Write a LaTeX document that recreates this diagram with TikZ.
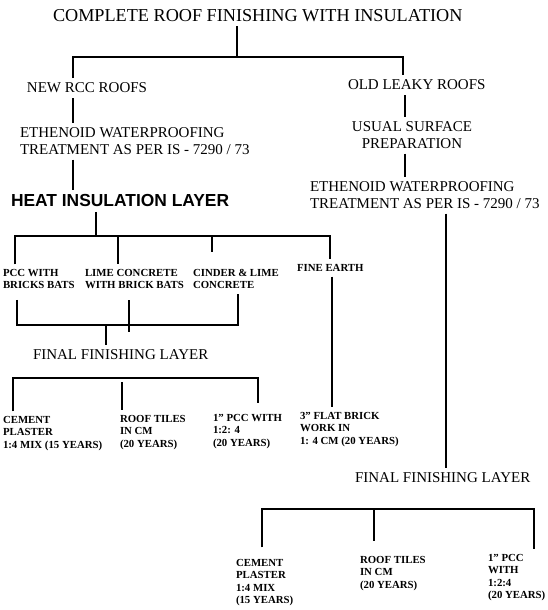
\documentclass[tikz,border=0pt]{standalone}
\usepackage{fontspec}
\setmainfont{Liberation Serif}
\setsansfont{Liberation Sans}
\begin{document}
\begin{tikzpicture}[x=1pt, y=-1pt, line width=1.2pt,
  txt/.style={inner sep=0pt, outer xsep=0pt, outer ysep=5pt, anchor=north west, align=left},
  big/.style={txt, font=\fontsize{18.2}{20}\selectfont\rmfamily},
  mid/.style={txt, font=\fontsize{15}{16.5}\selectfont\rmfamily},
  sm/.style={txt, font=\fontsize{10.8}{12.3}\selectfont\rmfamily\bfseries},
  hd/.style={txt, font=\fontsize{17.4}{18}\selectfont\sffamily\bfseries},
]
  \useasboundingbox (0,0) rectangle (548,610);

  \node[big] (top) at (53,4) {COMPLETE ROOF FINISHING WITH INSULATION};

  \node[mid] (rcc) at (27,78) {NEW RCC ROOFS};
  \node[mid] (eth) at (20,123) {ETHENOID WATERPROOFING\\TREATMENT AS PER IS - 7290 / 73};
  \node[hd] (heat) at (11,189.5) {HEAT INSULATION LAYER};

  \node[mid] (old) at (348,75) {OLD LEAKY ROOFS};
  \node[mid, anchor=north, align=center] (usual) at (412,117) {USUAL SURFACE\\PREPARATION};
  \node[mid] (eth2) at (310,177) {ETHENOID WATERPROOFING\\TREATMENT AS PER IS - 7290 / 73};

  \node[sm] (pcc) at (3,264.4) {PCC WITH\\BRICKS BATS};
  \node[sm] (lime) at (85,264.4) {LIME CONCRETE\\WITH BRICK BATS};
  \node[sm] (cinder) at (193,264.4) {CINDER \& LIME\\CONCRETE};
  \node[sm] (earth) at (297,259.4) {FINE EARTH};

  \node[mid] (fin) at (33,345) {FINAL FINISHING LAYER};
  \node[sm] (cem) at (3,411.4) {CEMENT\\PLASTER\\1:4 MIX (15 YEARS)};
  \node[sm] (tile) at (120,410.4) {ROOF TILES\\IN CM\\(20 YEARS)};
  \node[sm] (pcc1) at (213,409.4) {1'' PCC WITH\\1:2: 4\\(20 YEARS)};
  \node[sm] (flat) at (300,407.4) {3'' FLAT BRICK\\WORK IN\\1: 4 CM (20 YEARS)};

  \node[mid] (fin2) at (355,468) {FINAL FINISHING LAYER};
  \node[sm] (cem2) at (236,554.4) {CEMENT\\PLASTER\\1:4 MIX\\(15 YEARS)};
  \node[sm] (tile2) at (360,551.4) {ROOF TILES\\IN CM\\(20 YEARS)};
  \node[sm] (pcc2) at (488,549.4) {1'' PCC\\WITH\\1:2:4\\(20 YEARS)};

  % junctions
  \coordinate (j0) at (237,57);
  \coordinate (jl) at (73,57);
  \coordinate (jr) at (403,57);
  \coordinate (r) at (405,122);
  \coordinate (s) at (446,300);
  \coordinate (h0) at (96,236);
  \coordinate (h1) at (15,236);
  \coordinate (h2) at (118,236);
  \coordinate (h3) at (212,236);
  \coordinate (h4) at (330,236);
  \coordinate (e) at (332,340);
  \coordinate (m0) at (106,325);
  \coordinate (m1) at (17,325);
  \coordinate (m2) at (129,332);
  \coordinate (m3) at (238,325);
  \coordinate (f1) at (13,378);
  \coordinate (f2) at (122,382);
  \coordinate (f3) at (258,378);
  \coordinate (g1) at (262,509);
  \coordinate (g2) at (374,509);
  \coordinate (g3) at (534,509);

  \draw (top.south -| j0) -- (j0);
  \draw (rcc.north -| jl) -- (jl) -- (jr) -- (old.north -| jr);
  \draw (rcc.south -| jl) -- (eth.north -| jl);
  \draw (eth.south -| jl) -- (heat.north -| jl);
  \draw (old.south -| r) -- (usual.north -| r);
  \draw (usual.south -| r) -- (eth2.north -| r);
  \draw (eth2.south -| s) -- (fin2.north -| s);

  \draw (heat.south -| h0) -- (h0);
  \draw (pcc.north -| h1) -- (h1) -- (h4) -- (earth.north -| h4);
  \draw (h2) -- (lime.north -| h2);
  \draw[shorten >=12pt] (h3) -- (cinder.north -| h3);
  \draw (earth.south -| e) -- (flat.north -| e);

  \draw[shorten <=6pt] (pcc.south -| m1) -- (m1) -- (m3) -- (cinder.south -| m3);
  \draw[shorten <=6pt] (lime.south -| m2) -- (m2);
  \draw (m0) -- (fin.north -| m0);

  \draw[shorten >=6pt] (cem.north -| f1) -- (f1) -- (f3) -- (pcc1.north -| f3);
  \draw (f2) -- (tile.north -| f2);

  \draw[shorten <=7pt] (cem2.north -| g1) -- (g1) -- (g3) -- (pcc2.north -| g3);
  \draw[shorten >=10pt] (g2) -- (tile2.north -| g2);
\end{tikzpicture}
\end{document}
